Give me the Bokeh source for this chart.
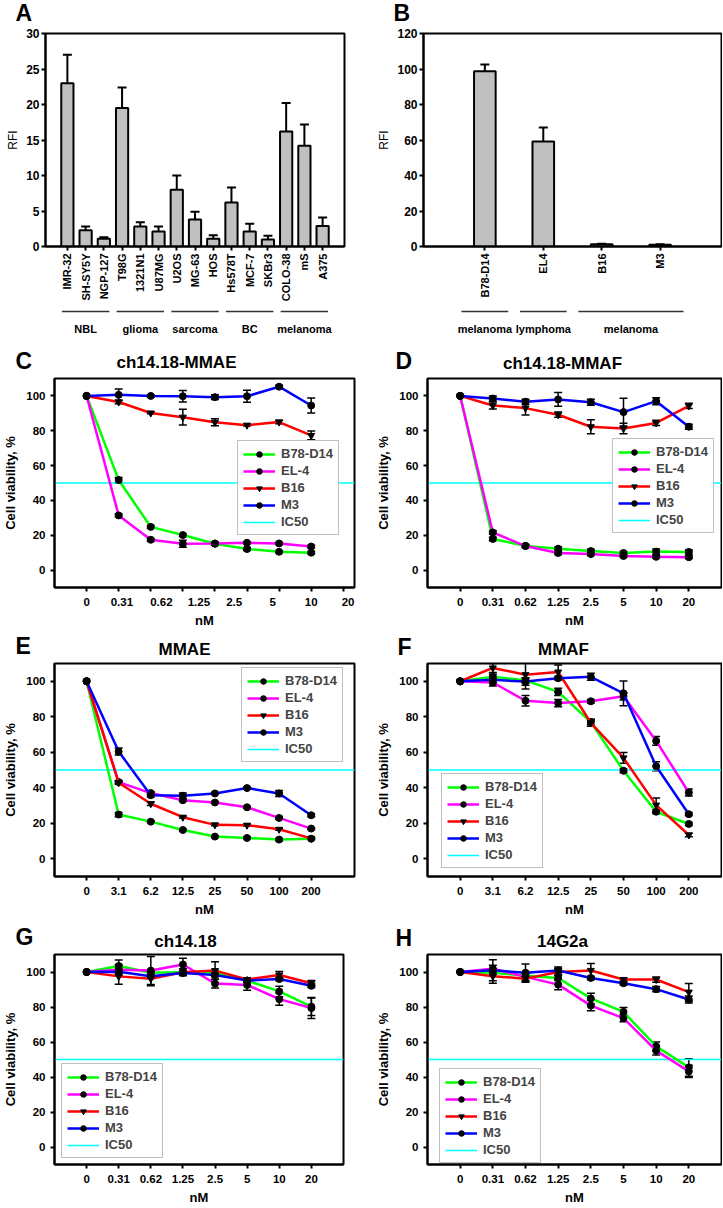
import math
from bokeh.plotting import figure
from bokeh.models import (Range1d, FixedTicker, Whisker, TeeHead, ColumnDataSource,
                          Legend, LegendItem)
from bokeh.layouts import row, column
from bokeh.embed import file_html
from bokeh.resources import INLINE
from bokeh.core.properties import value

FONT = "Liberation Sans"

# ---------------- DATA ----------------
# Panel A
a_cells = ["IMR-32", "SH-SY5Y", "NGP-127", "T98G", "1321N1", "U87MG", "U2OS", "MG-63",
           "HOS", "Hs578T", "MCF-7", "SKBr3", "COLO-38", "mS", "A375"]
a_rfi = [23.0, 2.3, 1.1, 19.5, 2.8, 2.1, 8.0, 3.8, 1.1, 6.2, 2.1, 1.0, 16.2, 14.2, 2.9]
a_err = [4.0, 0.5, 0.2, 2.9, 0.6, 0.7, 2.0, 1.1, 0.5, 2.1, 1.1, 0.5, 4.0, 3.0, 1.2]
a_groups = ["NBL", "glioma", "sarcoma", "BC", "melanoma"]
a_group_sizes = [3, 3, 3, 3, 3]
a_yticks = [0, 5, 10, 15, 20, 25, 30]

# Panel B
b_cells = ["B78-D14", "EL4", "B16", "M3"]
b_rfi = [98.7, 59.2, 1.2, 1.0]
b_err = [3.8, 7.8, 0.3, 0.3]
b_groups = ["melanoma", "lymphoma", "melanoma"]
b_group_sizes = [1, 1, 2]
b_yticks = [0, 20, 40, 60, 80, 100, 120]

# Dose-response panels
conc_adc = ["0", "0.31", "0.62", "1.25", "2.5", "5", "10", "20"]
conc_drug = ["0", "3.1", "6.2", "12.5", "25", "50", "100", "200"]
series_names = ["B78-D14", "EL-4", "B16", "M3"]
viab_ticks = [0, 20, 40, 60, 80, 100]
IC50 = 50

# C: ch14.18-MMAE
c_b78 = [100, 51.7, 24.8, 20.1, 15.1, 12.1, 10.5, 10.0]
c_el4 = [100, 31.4, 17.4, 15.1, 15.3, 15.7, 15.3, 13.5]
c_b16 = [100, 96.5, 90.2, 87.8, 84.9, 83.2, 85.0, 77.3]
c_m3 = [100, 100.6, 100.0, 99.8, 99.3, 99.8, 105.3, 94.5]
c_b78_err = [0, 1.5, 0.8, 0.8, 0.8, 0.8, 0.6, 0.6]
c_el4_err = [0, 0.8, 0.8, 2.0, 0.8, 0.6, 0.6, 0.8]
c_b16_err = [0, 1.0, 0.5, 4.5, 2.0, 0.5, 1.0, 2.5]
c_m3_err = [0, 3.3, 0.5, 3.3, 1.3, 3.4, 0.8, 4.3]

# D: ch14.18-MMAF
d_b78 = [100, 17.9, 13.9, 12.3, 10.9, 9.8, 10.6, 10.4]
d_el4 = [100, 21.6, 13.8, 9.8, 9.2, 8.1, 7.6, 7.4]
d_b16 = [100, 94.5, 93.0, 89.2, 82.3, 81.3, 84.5, 94.3]
d_m3 = [100, 98.5, 96.6, 98.0, 96.4, 90.7, 97.0, 82.3]
d_b78_err = [0, 1.0, 0.8, 1.0, 1.0, 0.8, 1.5, 1.2]
d_el4_err = [0, 1.0, 0.8, 0.8, 0.8, 0.8, 0.8, 0.8]
d_b16_err = [0, 2.0, 4.0, 1.5, 4.0, 3.0, 1.5, 1.5]
d_m3_err = [0, 1.5, 1.5, 4.0, 1.7, 8.0, 2.0, 1.5]

# E: MMAE
e_b78 = [100, 24.9, 20.9, 16.2, 12.5, 11.7, 10.8, 11.3]
e_el4 = [100, 43.2, 37.0, 33.0, 31.7, 29.0, 23.0, 17.0]
e_b16 = [100, 42.8, 31.0, 23.4, 19.1, 18.9, 16.6, 11.5]
e_m3 = [100, 60.4, 35.8, 35.5, 36.8, 39.8, 36.8, 24.5]
e_b78_err = [0, 1.2, 0.5, 0.5, 0.5, 0.5, 0.8, 0.5]
e_el4_err = [0, 0.8, 0.8, 0.8, 0.5, 0.5, 0.8, 0.5]
e_b16_err = [0, 0.8, 1.0, 0.5, 0.5, 0.5, 0.5, 0.5]
e_m3_err = [0, 2.0, 1.0, 1.5, 0.5, 0.5, 1.7, 0.8]

# F: MMAF
f_b78 = [100, 102.5, 100.5, 94.0, 77.0, 49.6, 26.5, 19.6]
f_el4 = [100, 99.3, 89.0, 87.7, 88.7, 91.5, 66.4, 37.3]
f_b16 = [100, 107.5, 103.7, 105.2, 76.6, 56.8, 30.2, 13.4]
f_m3 = [100, 100.8, 99.8, 101.7, 102.5, 93.2, 52.1, 25.1]
f_b78_err = [0, 1.5, 1.5, 2.0, 1.5, 1.0, 1.0, 0.8]
f_el4_err = [0, 2.0, 3.0, 2.0, 1.0, 2.0, 2.5, 2.0]
f_b16_err = [0, 2.5, 8.0, 4.0, 2.0, 3.0, 4.0, 1.0]
f_m3_err = [0, 1.5, 2.0, 1.0, 2.0, 7.0, 2.5, 0.8]

# G: ch14.18
g_b78 = [100, 103.4, 99.6, 99.8, 99.6, 95.1, 88.9, 80.2]
g_el4 = [100, 101.3, 100.8, 104.3, 93.4, 92.6, 84.5, 79.4]
g_b16 = [100, 97.5, 96.2, 99.8, 100.8, 95.7, 98.3, 93.6]
g_m3 = [100, 100.2, 97.6, 99.4, 98.3, 95.1, 96.0, 92.1]
g_b78_err = [0, 3.5, 1.0, 1.0, 1.0, 1.0, 3.0, 5.0]
g_el4_err = [0, 3.0, 8.0, 3.5, 2.5, 3.0, 3.5, 6.0]
g_b16_err = [0, 4.5, 4.0, 2.0, 5.0, 1.0, 2.0, 1.5]
g_m3_err = [0, 1.0, 1.0, 1.0, 1.0, 1.0, 1.0, 1.0]

# H: 14G2a
h_b78 = [100, 99.6, 97.9, 96.6, 84.9, 77.2, 57.5, 45.5]
h_el4 = [100, 101.9, 97.2, 92.8, 80.8, 73.6, 55.1, 43.2]
h_b16 = [100, 97.6, 96.2, 100.0, 100.9, 95.7, 95.7, 88.5]
h_m3 = [100, 101.0, 99.6, 100.9, 96.6, 93.6, 90.2, 84.3]
h_b78_err = [0, 1.0, 1.5, 1.5, 3.0, 2.5, 2.5, 5.0]
h_el4_err = [0, 2.0, 2.0, 3.0, 3.0, 2.0, 2.5, 3.5]
h_b16_err = [0, 4.0, 2.0, 2.0, 4.0, 1.0, 1.5, 5.0]
h_m3_err = [0, 6.0, 5.0, 2.0, 1.0, 1.0, 1.5, 2.0]

# ---------------- STYLE ----------------
SERIES_STYLE = {"B78-D14": ("#00ff00", "circle"), "EL-4": ("#ff00ff", "circle"),
                "B16": ("#ff0000", "inverted_triangle"), "M3": ("#0000ff", "circle")}
W_LEFT = 365
W_RIGHT = 357
W_ALL = W_LEFT + W_RIGHT


def style_axes(p, tick_fs="11.5px", label_fs="13px", label_bold=True):
    for ax in p.axis:
        ax.axis_line_width = 2
        ax.axis_line_color = "black"
        ax.major_tick_line_width = 2
        ax.major_tick_out = 4
        ax.major_tick_in = 0
        ax.minor_tick_line_color = None
        ax.major_label_text_font = FONT
        ax.major_label_text_font_style = "bold"
        ax.major_label_text_font_size = tick_fs
        ax.major_label_text_color = "black"
        ax.axis_label_text_font = FONT
        ax.axis_label_text_font_style = "bold" if label_bold else "normal"
        ax.axis_label_text_font_size = label_fs
        ax.axis_label_text_color = "black"
    p.xgrid.grid_line_color = None
    p.ygrid.grid_line_color = None
    p.outline_line_color = "black"
    p.outline_line_width = 2
    p.outline_line_alpha = 1


def header_strip(h, letters, titles):
    """letters/titles: list of (x_page, y_from_strip_top, text)"""
    s = figure(width=W_ALL, height=h, x_range=Range1d(0, W_ALL), y_range=Range1d(0, h),
               output_backend="svg", toolbar_location=None, min_border_left=0,
               min_border_right=0, min_border_top=0, min_border_bottom=0,
               x_axis_location=None, y_axis_location=None)
    s.xgrid.grid_line_color = None
    s.ygrid.grid_line_color = None
    s.outline_line_color = None
    if letters:
        s.text(x=[l[0] for l in letters], y=[h - l[1] for l in letters],
               text=[l[2] for l in letters], text_align="left", text_baseline="middle",
               text_font=value(FONT), text_font_style="bold", text_font_size="23px",
               text_color="black")
    if titles:
        s.text(x=[t[0] for t in titles], y=[h - t[1] for t in titles],
               text=[t[2] for t in titles], text_align="center", text_baseline="middle",
               text_font=value(FONT), text_font_style="bold", text_font_size="17px",
               text_color="black")
    return s


def bar_panel(cells, vals, errs, yticks, width, bl, br, xlo, xhi, bar_w):
    height, bt, bb = 278, 7, 58
    p = figure(width=width, height=height, x_range=Range1d(xlo, xhi),
               y_range=Range1d(yticks[0], yticks[-1]), output_backend="svg",
               toolbar_location=None, min_border_left=bl, min_border_right=br,
               min_border_top=bt, min_border_bottom=bb)
    xs = list(range(len(cells)))
    src = ColumnDataSource(dict(x=xs, top=vals, up=[v + e for v, e in zip(vals, errs)]))
    p.vbar(x="x", top="top", width=bar_w, bottom=0, source=src, fill_color="#c0c0c0",
           line_color="black", line_width=2)
    p.add_layout(Whisker(base="x", lower="top", upper="up", source=src, line_color="black",
                         line_width=2, lower_head=None,
                         upper_head=TeeHead(size=9, line_width=2, line_color="black")))
    style_axes(p, tick_fs="12px", label_fs="12px", label_bold=False)
    p.xaxis.ticker = FixedTicker(ticks=xs)
    p.xaxis.major_label_overrides = {i: c for i, c in enumerate(cells)}
    p.xaxis.major_label_orientation = math.pi / 2
    p.xaxis.major_label_text_font_size = "11px"
    p.xaxis.major_label_standoff = 3
    p.yaxis.ticker = FixedTicker(ticks=yticks)
    p.yaxis.axis_label = "RFI"
    p.yaxis.major_label_standoff = 2
    p.yaxis.axis_label_standoff = 3
    return p


def group_strip(xr, groups, sizes, pad, width, bl, br):
    h = 36
    g = figure(width=width, height=h, x_range=xr, y_range=Range1d(0, h), output_backend="svg",
               toolbar_location=None, min_border_left=bl, min_border_right=br,
               min_border_top=0, min_border_bottom=0, x_axis_location=None, y_axis_location=None)
    g.xgrid.grid_line_color = None
    g.ygrid.grid_line_color = None
    g.outline_line_color = None
    starts, ends, s = [], [], 0
    for n in sizes:
        starts.append(s)
        ends.append(s + n - 1)
        s += n
    x0 = [a - pad for a in starts]
    x1 = [b + pad for b in ends]
    mid = [(a + b) / 2 for a, b in zip(starts, ends)]
    g.segment(x0=x0, y0=[h - 7] * len(groups), x1=x1, y1=[h - 7] * len(groups),
              line_color="#333333", line_width=1.5)
    g.text(x=mid, y=[h - 24] * len(groups), text=groups, text_align="center",
           text_baseline="middle", text_font=value(FONT), text_font_style="bold",
           text_font_size="11px", text_color="black")
    return g


def line_panel(xlabels, data, errs, *, width, height, bl, br, bt, bb,
               xend, legend_xy, label_pos=None):
    p = figure(width=width, height=height, x_range=Range1d(-1, xend), y_range=Range1d(-10, 110),
               output_backend="svg", toolbar_location=None, min_border_left=bl,
               min_border_right=br, min_border_top=bt, min_border_bottom=bb)
    xs = list(range(len(xlabels)))
    ic = p.line(x=[-1, xend], y=[IC50, IC50], line_color="#00ffff", line_width=1.5)
    items = []
    whisk = []
    for name in series_names:
        color, marker = SERIES_STYLE[name]
        vals = data[name]
        e = errs[name]
        rl = p.line(xs, vals, line_color=color, line_width=2.5)
        rs = p.scatter(xs, vals, marker=marker, size=7, fill_color="black", line_color="black")
        items.append(LegendItem(label=name, renderers=[rl, rs]))
        keep = [i for i in xs if e[i] > 0]
        whisk.append(ColumnDataSource(dict(x=[xs[i] for i in keep],
                                           lo=[vals[i] - e[i] for i in keep],
                                           hi=[vals[i] + e[i] for i in keep])))
    for src in whisk:
        p.add_layout(Whisker(base="x", lower="lo", upper="hi", source=src, line_color="black",
                             line_width=1.5,
                             upper_head=TeeHead(size=8, line_width=1.5, line_color="black"),
                             lower_head=TeeHead(size=8, line_width=1.5, line_color="black")))
    items.append(LegendItem(label="IC50", renderers=[ic]))
    leg = Legend(items=items, location=legend_xy, label_text_font=FONT,
                 label_text_font_style="bold", label_text_font_size="13px",
                 glyph_width=32, glyph_height=14, label_height=14, spacing=2, padding=5,
                 margin=0, label_standoff=6, border_line_color="#808080", border_line_width=1,
                 background_fill_color="white", background_fill_alpha=1)
    p.add_layout(leg)
    style_axes(p)
    if label_pos is None:
        p.xaxis.ticker = FixedTicker(ticks=xs)
        p.xaxis.major_label_overrides = {i: t for i, t in enumerate(xlabels)}
    else:
        p.xaxis.ticker = FixedTicker(ticks=label_pos, minor_ticks=list(range(len(xlabels) + 1)))
        p.xaxis.major_label_overrides = {lp: t for lp, t in zip(label_pos, xlabels)}
        p.xaxis.major_tick_line_color = None
        p.xaxis.minor_tick_line_color = "black"
        p.xaxis.minor_tick_line_width = 2
        p.xaxis.minor_tick_out = 4
        p.xaxis.minor_tick_in = 0
    p.xaxis.major_label_standoff = 6
    p.xaxis.axis_label_standoff = 4
    p.yaxis.major_label_standoff = 5
    p.yaxis.axis_label_standoff = 5
    p.yaxis.ticker = FixedTicker(ticks=viab_ticks)
    p.yaxis.axis_label = "Cell viability, %"
    p.xaxis.axis_label = "nM"
    return p


def pack(b78, el4, b16, m3):
    return {"B78-D14": b78, "EL-4": el4, "B16": b16, "M3": m3}


# ---------------- FIGURES ----------------
h1 = header_strip(26, [(15, 12, "A"), (393, 12, "B")], [])
pA = bar_panel(a_cells, a_rfi, a_err, a_yticks, W_LEFT, 45, 21, -1.2, 15.2, 0.67)
gA = group_strip(pA.x_range, a_groups, a_group_sizes, 0.3, W_LEFT, 45, 21)
pB = bar_panel(b_cells, b_rfi, b_err, b_yticks, W_RIGHT, 58, 1, -1.05, 4.05, 0.37)
gB = group_strip(pB.x_range, b_groups, b_group_sizes, 0.4, W_RIGHT, 58, 1)

h2 = header_strip(36, [(15, 20, "C"), (395, 20, "D")],
                  [(176, 22, "ch14.18-MMAE"), (562, 23, "ch14.18-MMAF")])
pC = line_panel(conc_adc, pack(c_b78, c_el4, c_b16, c_m3),
                pack(c_b78_err, c_el4_err, c_b16_err, c_m3_err),
                width=W_LEFT, height=254, bl=49, br=11, bt=2, bb=43, xend=8.35,
                legend_xy=(183, 52), label_pos=[0, 1.1, 2.33, 3.5, 4.6, 5.8, 7.0, 8.15])
pD = line_panel(conc_adc, pack(d_b78, d_el4, d_b16, d_m3),
                pack(d_b78_err, d_el4_err, d_b16_err, d_m3_err),
                width=W_RIGHT, height=254, bl=62, br=1, bt=2, bb=43, xend=8,
                legend_xy=(185, 54))

h3 = header_strip(31, [(15, 15, "E"), (397, 16, "F")],
                  [(184, 19, "MMAE"), (563, 19, "MMAF")])
pE = line_panel(conc_drug, pack(e_b78, e_el4, e_b16, e_m3),
                pack(e_b78_err, e_el4_err, e_b16_err, e_m3_err),
                width=W_LEFT, height=258, bl=49, br=11, bt=2, bb=43, xend=8.35,
                legend_xy=(187, 114))
pF = line_panel(conc_drug, pack(f_b78, f_el4, f_b16, f_m3),
                pack(f_b78_err, f_el4_err, f_b16_err, f_m3_err),
                width=W_RIGHT, height=258, bl=62, br=1, bt=2, bb=43, xend=8,
                legend_xy=(14, 8))

h4 = header_strip(31, [(15, 17, "G"), (395, 18, "H")],
                  [(185, 22, "ch14.18"), (562, 22, "14G2a")])
pG = line_panel(conc_adc, pack(g_b78, g_el4, g_b16, g_m3),
                pack(g_b78_err, g_el4_err, g_b16_err, g_m3_err),
                width=W_LEFT, height=257, bl=49, br=22, bt=4, bb=41, xend=8,
                legend_xy=(7, 6))
pH = line_panel(conc_adc, pack(h_b78, h_el4, h_b16, h_m3),
                pack(h_b78_err, h_el4_err, h_b16_err, h_m3_err),
                width=W_RIGHT, height=257, bl=62, br=1, bt=4, bb=41, xend=8,
                legend_xy=(12, 1))

layout = column(
    h1,
    row(column(pA, gA), column(pB, gB)),
    h2, row(pC, pD),
    h3, row(pE, pF),
    h4, row(pG, pH),
)

open("out.html", "w").write(file_html(layout, INLINE))
